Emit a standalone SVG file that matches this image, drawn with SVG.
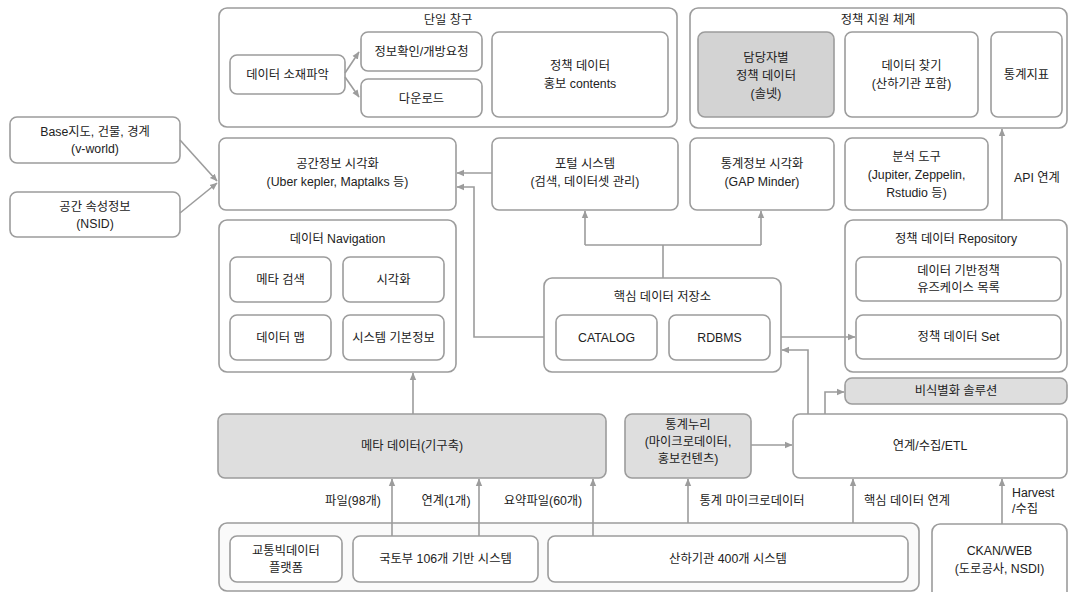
<svg xmlns="http://www.w3.org/2000/svg" width="1069" height="592" viewBox="0 0 1069 592">
<defs>
<marker id="ah" markerWidth="8" markerHeight="8" refX="7" refY="4" orient="auto" markerUnits="userSpaceOnUse">
<path d="M0,0.8 L7.5,4 L0,7.2 z" fill="#9c9c9c"/>
</marker>
<style>
rect{fill:#fff;stroke:#9c9c9c;stroke-width:1.6}
rect.g{fill:#d3d3d3}
rect.g2{fill:#dedede}
rect.o{fill:#fafafa}
text{font-family:"Liberation Sans","Noto Sans CJK KR",sans-serif;font-size:12.3px;fill:#222;text-anchor:middle}
text.l{text-anchor:start}
#connectors path,#connectors line{stroke:#9c9c9c;stroke-width:1.6;fill:none}
.a{marker-end:url(#ah)}
</style>
</defs>
<rect width="1069" height="592" style="fill:#fff;stroke:none"/>

<g id="danil">
<rect x="219" y="8" width="458" height="119" rx="8"/>
<text x="448" y="24">단일 창구</text>
</g>
<g id="sojae"><rect x="230" y="55" width="115" height="39" rx="7"/><text x="287.5" y="79">데이터 소재파악</text></g>
<g id="jeongbo"><rect x="361" y="32" width="121" height="39" rx="7"/><text x="421.5" y="56">정보확인/개방요청</text></g>
<g id="download"><rect x="361" y="79" width="121" height="38" rx="7"/><text x="421.5" y="102.5">다운로드</text></g>
<g id="hongbo"><rect x="492" y="32" width="176" height="85" rx="7"/><text x="580" y="70">정책 데이터</text><text x="580" y="88">홍보 contents</text></g>

<g id="jiwon">
<rect x="690" y="8" width="377" height="120" rx="8"/>
<text x="878" y="24">정책 지원 체계</text>
</g>
<g id="damdang"><rect class="g" x="698" y="32" width="136" height="85" rx="7"/><text x="766" y="62">담당자별</text><text x="766" y="80">정책 데이터</text><text x="766" y="98">(솔넷)</text></g>
<g id="chatgi"><rect x="845" y="32" width="133" height="85" rx="7"/><text x="911.5" y="70">데이터 찾기</text><text x="911.5" y="88">(산하기관 포함)</text></g>
<g id="tonggye"><rect x="991" y="32" width="71" height="85" rx="7"/><text x="1026.5" y="79">통계지표</text></g>

<g id="base"><rect x="10" y="117" width="170" height="46" rx="7"/><text x="95" y="136">Base지도, 건물, 경계</text><text x="95" y="153">(v-world)</text></g>
<g id="sokseong"><rect x="10" y="192" width="170" height="45" rx="7"/><text x="95" y="211">공간 속성정보</text><text x="95" y="228">(NSID)</text></g>

<g id="gonggan"><rect x="219" y="138" width="237" height="72" rx="7"/><text x="337.5" y="168">공간정보 시각화</text><text x="337.5" y="186">(Uber kepler, Maptalks 등)</text></g>
<g id="portal"><rect x="492" y="138" width="186" height="72" rx="7"/><text x="585" y="168">포털 시스템</text><text x="585" y="186">(검색, 데이터셋 관리)</text></g>
<g id="tongvis"><rect x="690" y="138" width="144" height="72" rx="7"/><text x="762" y="168">통계정보 시각화</text><text x="762" y="186">(GAP Minder)</text></g>
<g id="bunseok"><rect x="845" y="138" width="143" height="72" rx="7"/><text x="916.5" y="161">분석 도구</text><text x="916.5" y="179">(Jupiter, Zeppelin,</text><text x="916.5" y="197">Rstudio 등)</text></g>

<g id="nav">
<rect x="219" y="220" width="237" height="152" rx="8"/>
<text x="337.5" y="243">데이터 Navigation</text>
</g>
<g id="metasearch"><rect x="230" y="257" width="101" height="45" rx="7"/><text x="280.5" y="284">메타 검색</text></g>
<g id="sigak"><rect x="343" y="257" width="101" height="45" rx="7"/><text x="393.5" y="284">시각화</text></g>
<g id="datamap"><rect x="230" y="315" width="101" height="45" rx="7"/><text x="280.5" y="342">데이터 맵</text></g>
<g id="sysinfo"><rect x="343" y="315" width="101" height="45" rx="7"/><text x="393.5" y="342">시스템 기본정보</text></g>

<g id="core">
<rect x="544" y="278" width="237" height="94" rx="8"/>
<text x="662.5" y="301">핵심 데이터 저장소</text>
</g>
<g id="catalog"><rect x="556" y="315" width="101" height="45" rx="7"/><text x="606.5" y="342">CATALOG</text></g>
<g id="rdbms"><rect x="669" y="315" width="101" height="45" rx="7"/><text x="719.5" y="342">RDBMS</text></g>

<g id="repo">
<rect x="845" y="220" width="222" height="152" rx="8"/>
<text x="956" y="243">정책 데이터 Repository</text>
</g>
<g id="usecase"><rect x="856" y="257" width="205" height="44" rx="7"/><text x="958.5" y="275">데이터 기반정책</text><text x="958.5" y="292">유즈케이스 목록</text></g>
<g id="dataset"><rect x="856" y="315" width="205" height="44" rx="7"/><text x="958.5" y="341">정책 데이터 Set</text></g>

<g id="bisik"><rect class="g2" x="845" y="378" width="222" height="26" rx="7"/><text x="956" y="395">비식별화 솔루션</text></g>

<g id="meta"><rect class="g2" x="218" y="414" width="388" height="64" rx="7"/><text x="412" y="450">메타 데이터(기구축)</text></g>
<g id="nuri"><rect class="g2" x="625" y="414" width="126" height="64" rx="7"/><text x="688" y="429">통계누리</text><text x="688" y="446">(마이크로데이터,</text><text x="688" y="463">홍보컨텐츠)</text></g>
<g id="etl"><rect x="793" y="414" width="274" height="64" rx="7"/><text x="930" y="450">연계/수집/ETL</text></g>

<g id="bottom">
<rect class="o" x="219" y="523" width="700" height="68" rx="8"/>
</g>
<g id="gyotong"><rect x="230" y="536" width="112" height="46" rx="7"/><text x="286" y="555">교통빅데이터</text><text x="286" y="572">플랫폼</text></g>
<g id="gukto"><rect x="353" y="536" width="185" height="46" rx="7"/><text x="445.5" y="563">국토부 106개 기반 시스템</text></g>
<g id="sanha"><rect x="548" y="536" width="360" height="46" rx="7"/><text x="728" y="563">산하기관 400개 시스템</text></g>
<g id="ckan"><rect x="932" y="524" width="135" height="76" rx="8"/><text x="999.5" y="555">CKAN/WEB</text><text x="999.5" y="573">(도로공사, NSDI)</text></g>

<g id="connectors">
<path class="a" d="M345,73 L359,52"/>
<path class="a" d="M345,77 L359,97"/>
<path class="a" d="M180,140 L217,181"/>
<path class="a" d="M180,213 L217,183"/>
<path class="a" d="M492,173 H457"/>
<path class="a" d="M544,337 H474 V187 H457"/>
<path d="M663,278 V245 M585,245 H761"/>
<path class="a" d="M585,245 V211"/>
<path class="a" d="M761,245 V211"/>
<path class="a" d="M781,337 H855"/>
<path class="a" d="M808,414 V350 H782"/>
<path class="a" d="M825,414 V392 H844"/>
<path class="a" d="M1002,220 V129"/>
<path class="a" d="M413,414 V373"/>
<path class="a" d="M392,536 V479"/>
<path class="a" d="M479,536 V479"/>
<path class="a" d="M593,536 V479"/>
<path class="a" d="M751,445 H792"/>
<path class="a" d="M688,523 V479"/>
<path class="a" d="M853,523 V479"/>
<path class="a" d="M1002,524 V479"/>
</g>

<g id="labels">
<text x="1037" y="182">API 연계</text>
<text x="353" y="505">파일(98개)</text>
<text x="446" y="505">연계(1개)</text>
<text x="543" y="505">요약파일(60개)</text>
<text x="752" y="505">통계 마이크로데이터</text>
<text x="907" y="505">핵심 데이터 연계</text>
<text class="l" x="1012" y="497">Harvest</text>
<text class="l" x="1012" y="513">/수집</text>
</g>
</svg>
